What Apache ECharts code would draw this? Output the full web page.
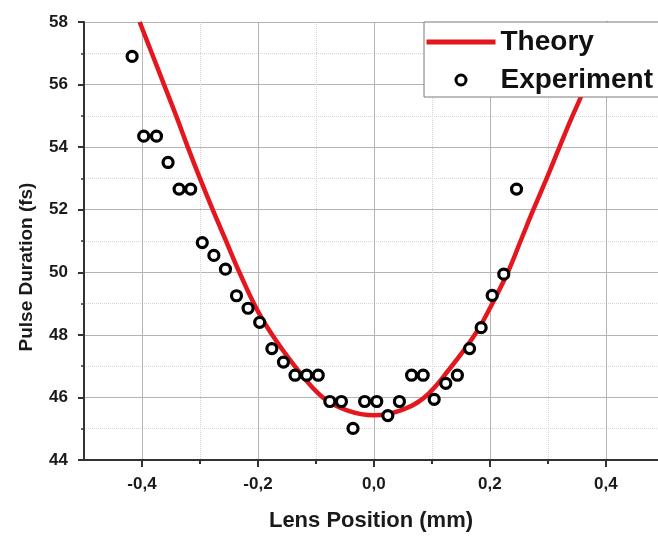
<!DOCTYPE html>
<html>
<head>
<meta charset="utf-8">
<script src="https://cdn.jsdelivr.net/npm/echarts@6/dist/echarts.min.js"></script>
<style>
html,body{margin:0;padding:0;background:#fff;}
#chart{width:658px;height:537px;}
</style>
</head>
<body>
<div id="chart"></div>
<script>
// Experimental data (lens position in mm, pulse duration in fs)
const expX = [-0.417, -0.397, -0.375, -0.355, -0.336, -0.316, -0.296, -0.276, -0.256, -0.237,
              -0.217, -0.197, -0.176, -0.156, -0.136, -0.116, -0.096, -0.076, -0.056, -0.036,
              -0.016, 0.005, 0.024, 0.044, 0.065, 0.085, 0.104, 0.124, 0.144, 0.165,
              0.185, 0.204, 0.224, 0.246];
const expY = [56.90, 54.35, 54.35, 53.51, 52.66, 52.66, 50.95, 50.54, 50.10, 49.25,
              48.85, 48.40, 47.56, 47.13, 46.71, 46.71, 46.71, 45.87, 45.87, 45.01,
              45.87, 45.87, 45.42, 45.87, 46.71, 46.71, 45.94, 46.45, 46.71, 47.56,
              48.23, 49.26, 49.94, 52.66];
// Theory curve
const theoryX = [-0.404, -0.383, -0.362, -0.341, -0.321, -0.300, -0.278, -0.255, -0.232, -0.200,
                 -0.170, -0.130, -0.088, -0.045, 0.000, 0.045, 0.087, 0.130, 0.174, 0.200,
                 0.231, 0.253, 0.275, 0.298, 0.320, 0.339, 0.358, 0.382, 0.405];
const theoryY = [58.0, 57.0, 56.0, 55.0, 54.0, 53.0, 52.0, 51.0, 50.0, 48.75,
                 47.85, 46.85, 46.0, 45.58, 45.43, 45.58, 46.0, 46.9, 48.0, 48.85,
                 50.0, 51.0, 52.0, 53.0, 54.0, 54.85, 55.65, 56.8, 58.0];
const xMajorTicks = [-0.4, -0.2, 0.0, 0.2, 0.4];
const xMinorTicks = [-0.3, -0.1, 0.1, 0.3];
const yMin = 44, yMax = 58, yStep = 2;
const xMin = -0.5, xMax = 0.49;

const FONT = '"Liberation Sans", Arial, Helvetica, sans-serif';
const chart = echarts.init(document.getElementById('chart'), null, {renderer: 'canvas'});

const theoryData = theoryX.map((x, i) => [x, theoryY[i]]);
const expData = expX.map((x, i) => [x, expY[i]]);

chart.setOption({
  animation: false,
  backgroundColor: '#ffffff',
  grid: {left: 84, top: 22, right: 0, bottom: 74, containLabel: false},
  legend: {
    orient: 'vertical',
    left: 424, top: 22,
    padding: [3, 24, 0, 0],
    itemGap: 4,
    itemWidth: 69,
    itemHeight: 10,
    itemTextGap: 7,
    selectedMode: false,
    backgroundColor: '#ffffff',
    borderColor: '#7a7a7a',
    borderWidth: 1,
    textStyle: {fontFamily: FONT, fontSize: 28, fontWeight: 'bold', color: '#111', lineHeight: 34},
    data: [
      {name: 'Theory', itemStyle: {opacity: 0}, lineStyle: {color: '#e3171d', width: 5, opacity: 1}},
      {name: 'Experiment', icon: 'circle', itemStyle: {color: '#fff', borderColor: '#000', borderWidth: 3}}
    ]
  },
  xAxis: [
    {
      type: 'value', min: xMin, max: xMax, position: 'bottom',
      name: 'Lens Position (mm)', nameLocation: 'middle', nameGap: 50,
      nameTextStyle: {fontFamily: FONT, fontSize: 22, fontWeight: 'bold', color: '#1a1a1a'},
      axisLine: {show: true, onZero: false, lineStyle: {color: '#333', width: 2}},
      axisTick: {show: true, customValues: xMajorTicks, length: 7, lineStyle: {color: '#333', width: 2}},
      axisLabel: {customValues: xMajorTicks, margin: 16, fontFamily: FONT, fontSize: 17, fontWeight: 'bold', color: '#1a1a1a',
                  formatter: v => v.toFixed(1).replace('.', ',')},
      splitLine: {show: true, lineStyle: {color: '#b4b4b4', width: 1, type: 'solid'}}
    },
    {
      type: 'value', min: xMin, max: xMax, position: 'bottom',
      axisLine: {show: false, onZero: false},
      axisTick: {show: true, customValues: xMinorTicks, length: 4, lineStyle: {color: '#333', width: 2}},
      axisLabel: {show: false},
      splitLine: {show: true, lineStyle: {color: '#d4d4d4', width: 1, type: 'dotted'}}
    }
  ],
  yAxis: {
    type: 'value', min: yMin, max: yMax, interval: yStep,
    name: 'Pulse Duration (fs)', nameLocation: 'middle', nameGap: 48, nameRotate: 90,
    nameTextStyle: {fontFamily: FONT, fontSize: 19, fontWeight: 'bold', color: '#1a1a1a', padding: [0, 52, 0, 0]},
    axisLine: {show: true, onZero: false, lineStyle: {color: '#333', width: 2}},
    axisTick: {show: true, length: 6, lineStyle: {color: '#333', width: 2}},
    minorTick: {show: true, splitNumber: 2, length: 3, lineStyle: {color: '#333', width: 1.5}},
    axisLabel: {margin: 16, fontFamily: FONT, fontSize: 17, fontWeight: 'bold', color: '#1a1a1a'},
    splitLine: {show: true, lineStyle: {color: '#b4b4b4', width: 1, type: 'solid'}},
    minorSplitLine: {show: true, lineStyle: {color: '#d4d4d4', width: 1, type: 'dotted'}}
  },
  series: [
    {
      name: 'Theory', type: 'line', data: theoryData, smooth: 0.4, symbol: 'none',
      xAxisIndex: 0, yAxisIndex: 0,
      lineStyle: {color: '#e3171d', width: 4.5}, itemStyle: {color: '#e3171d'},
      z: 3
    },
    {
      name: 'Experiment', type: 'scatter', data: expData, symbol: 'circle', symbolSize: 10,
      xAxisIndex: 0, yAxisIndex: 0,
      itemStyle: {color: '#ffffff', borderColor: '#000000', borderWidth: 3.2, opacity: 1},
      z: 4
    }
  ]
});
</script>
</body>
</html>
